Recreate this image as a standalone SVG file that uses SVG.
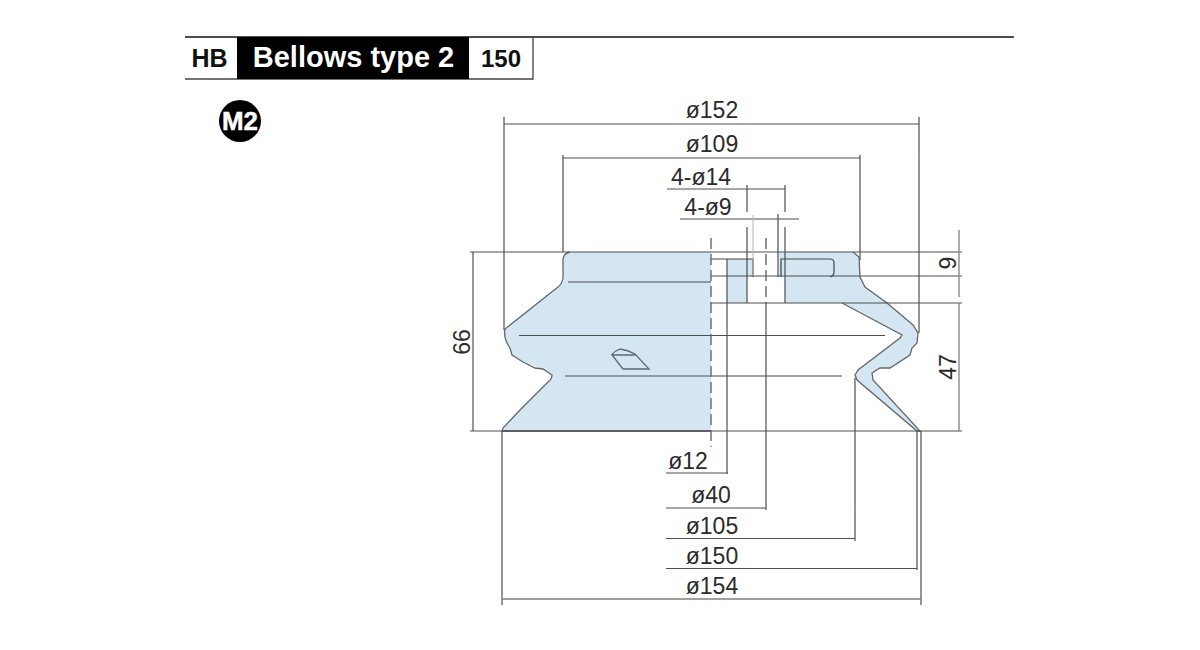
<svg xmlns="http://www.w3.org/2000/svg" width="1200" height="650" viewBox="0 0 1200 650">
<style>
text{font-family:"Liberation Sans",Arial,sans-serif;fill:#2b2b2b}
.d{font-size:23px;text-anchor:middle}
.b{font-weight:bold;text-anchor:middle}
.l{stroke:#4f4f4f;stroke-width:1.2;fill:none}
.g{stroke:#8a8a8a;stroke-width:1.4;fill:none}
.t{stroke:#b5b5b5;stroke-width:1;fill:none}
.o{stroke:#62676b;stroke-width:1.3;fill:none}
.f{fill:#d5e6f3;stroke:none}
</style>
<rect width="1200" height="650" fill="#fff"/>
<g id="header">
<path d="M185 37H1014" stroke="#111" stroke-width="1.4"/>
<path d="M185 79H533V37" stroke="#444" stroke-width="1.3" fill="none"/>
<rect x="237" y="37" width="232" height="42" fill="#000"/>
<text class="b" x="209.500" y="67" font-size="25" style="fill:#111">HB</text>
<text class="b" x="353.500" y="67" font-size="29" style="fill:#fff">Bellows type 2</text>
<text class="b" x="501" y="67" font-size="24" style="fill:#111">150</text>
</g>
<g id="badge">
<circle cx="240" cy="121" r="21" fill="#000"/>
<text class="b" x="240" y="130" font-size="26" textLength="36" lengthAdjust="spacingAndGlyphs" stroke="#fff" stroke-width="0.5" style="fill:#fff">M2</text>
</g>
<g id="body">
<path class="f" d="M711 252H570Q564 253 563 259V278Q562 284 558 287L505 329Q503 338 510 348L512 355L523 362L543 369L552 375Q552 379 548 382L520 410L503 428L502 431H711Z"/>
<path class="f" d="M738 252H853L859 257L860 277L865 287L887 303L913 325L918 333L917 343L912 348L910 355L890 368L880 368L872 373L873 380L920 431H917L857 380L855 375L858 370L900 338L902 335L842 303H785V276H779V252M738 252V259H753V276H747V303H727V259H738Z"/>
<path class="o" d="M570 252Q564 253 563 259V278Q562 284 558 287L505 329Q503 338 510 348L512 355L523 362L535 368L543 369L552 375Q552 379 548 382L520 410L503 428L502 431"/>
<path class="o" d="M853 252L859 257L860 277L865 287L887 303L913 325L918 333L917 343L912 348L910 355L890 368L880 368L872 373L873 380L920 431H917L857 380L855 375L858 370L900 338L902 335L842 303"/>
<path class="o" d="M612 355Q613 352 620 349Q628 350 635 354L649 369H623L612 355H635"/>
<path d="M502 431H711" stroke="#687078" stroke-width="2.2"/>
<path d="M711 259H753V277M781 277V259H830Q834 259 834 263V272Q834 276 830 277" stroke="#444" stroke-width="1.2" fill="none"/>
</g>
<g id="connectors">
<path class="l" d="M470 252H962M711 276H962M711 303H962M470 431H962M568 282H711M519 335.500H885M565 376H842"/>
<path class="l" d="M504 117V330M563 155V252M860 155V260M919 117V333M504 124H919M563 158H860"/>
<path class="l" d="M667 189H785M680 219H799M778 214V277M747 185V212M785 185V212M747 227V303M785 227V303"/>
<path class="t" d="M753 215V276"/>
<path d="M711 238V447M766 238V303" stroke="#666" stroke-width="1.4" stroke-dasharray="11 5" fill="none"/>
<path class="l" d="M727 259V474M666 473H728M766 303V510M666 508H766M855 378V541M666 538.500H855M917 431V570M666 568.500H917"/>
<path class="l" d="M502 431V605M921 431V605"/>
<path d="M502 599H921" stroke="#808080" stroke-width="1.7"/>
<path class="l" d="M473 252V431"/>
<path class="g" d="M959 230V297M959 303V431"/>
</g>
<g id="labels">
<text class="d" x="712" y="118">ø152</text>
<text class="d" x="712" y="152">ø109</text>
<text class="d" x="701" y="185">4-ø14</text>
<text class="d" x="708" y="215">4-ø9</text>
<text class="d" x="688" y="469">ø12</text>
<text class="d" x="711" y="503">ø40</text>
<text class="d" x="712" y="534">ø105</text>
<text class="d" x="712" y="564">ø150</text>
<text class="d" x="712" y="594">ø154</text>
<text class="d" transform="translate(470 342) rotate(-90)">66</text>
<text class="d" transform="translate(956 367) rotate(-90)">47</text>
<text class="d" transform="translate(956 263) rotate(-90)">9</text>
</g>
</svg>
